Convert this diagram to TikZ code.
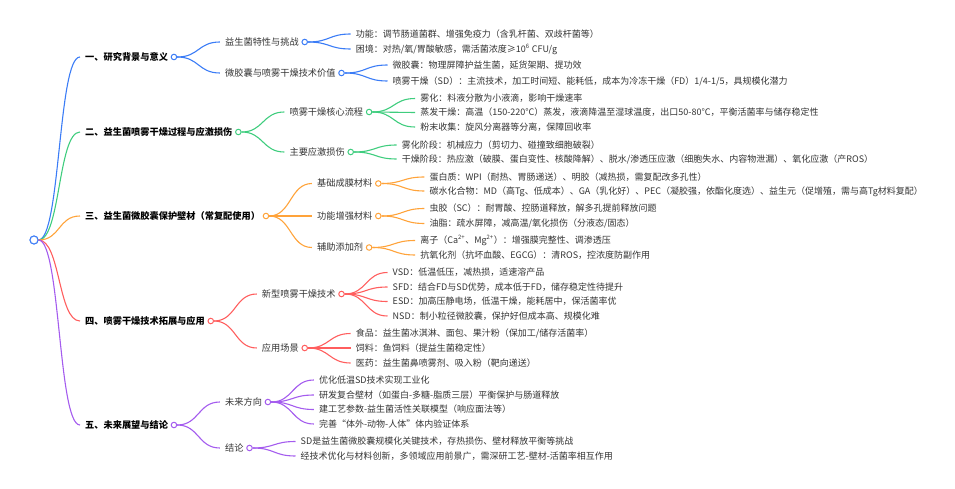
\documentclass[tikz,border=0pt]{standalone}
\usepackage{fontspec}
\setmainfont{Noto Sans CJK SC}
\usepackage{tikz}
\usetikzlibrary{positioning}

\definecolor{bblue}{HTML}{3B7CF6}
\definecolor{bgreen}{HTML}{3FCD7E}
\definecolor{borange}{HTML}{FFA33A}
\definecolor{bred}{HTML}{FF5E5E}
\definecolor{bpurple}{HTML}{A45CEE}
\definecolor{ink}{HTML}{333333}

\tikzset{
  txt/.style={anchor=west, inner sep=0pt, text height=0.8em, text depth=0.15em,
    text=ink, font=\fontsize{9}{11}\selectfont},
  head/.style={txt, text=black, font=\fontsize{9.2}{11}\selectfont\bfseries},
  sub/.style={txt, font=\fontsize{9.2}{11}\selectfont},
  leaf/.style={txt},
  dot/.style={circle, draw=#1, fill=white, line width=1pt, inner sep=0pt, minimum size=5.5pt},
  wire/.style={draw=#1, line width=1.1pt},
}
\newcommand{\conn}[3]{\draw[wire=#1] (#2.east) .. controls +(22,0) and +(-22,0) .. ([xshift=-5pt]#3.west);}

\begin{document}
\begin{tikzpicture}[x=1pt,y=-1pt]
  \useasboundingbox (0,0) rectangle (955,489);

  \node (root)[dot=bblue, minimum size=8pt] at (34,240) {};

  % branch 1
  \node (h1)[head, xshift=51pt] at (root.center |- 0,57) {一、研究背景与意义};
  \node (h1c)[dot=bblue, right=2.5pt of h1] {};
  \node (s11)[sub, xshift=51pt] at (h1c.center |- 0,42) {益生菌特性与挑战};
  \node (s11c)[dot=bblue, right=2.5pt of s11] {};
  \node (s12)[sub, xshift=51pt] at (h1c.center |- 0,73) {微胶囊与喷雾干燥技术价值};
  \node (s12c)[dot=bblue, right=2.5pt of s12] {};
  \node (l111)[leaf, xshift=51pt] at (s11c.center |- 0,34) {功能：调节肠道菌群、增强免疫力（含乳杆菌、双歧杆菌等）};
  \node (l112)[leaf, xshift=51pt] at (s11c.center |- 0,49) {困境：对热/氧/胃酸敏感，需活菌浓度≥10\textsuperscript{6} CFU/g};
  \node (l121)[leaf, xshift=51pt] at (s12c.center |- 0,65) {微胶囊：物理屏障护益生菌，延货架期、提功效};
  \node (l122)[leaf, xshift=51pt] at (s12c.center |- 0,81) {喷雾干燥（SD）：主流技术，加工时间短、能耗低，成本为冷冻干燥（FD）1/4-1/5，具规模化潜力};

  \conn{bblue}{root}{h1}
  \conn{bblue}{h1c}{s11}
  \conn{bblue}{h1c}{s12}
  \conn{bblue}{s11c}{l111}
  \conn{bblue}{s11c}{l112}
  \conn{bblue}{s12c}{l121}
  \conn{bblue}{s12c}{l122}

  % branch 2
  \node (h2)[head, xshift=51pt] at (root.center |- 0,132) {二、益生菌喷雾干燥过程与应激损伤};
  \node (h2c)[dot=bgreen, right=2.5pt of h2] {};
  \node (s21)[sub, xshift=51pt] at (h2c.center |- 0,112) {喷雾干燥核心流程};
  \node (s21c)[dot=bgreen, right=2.5pt of s21] {};
  \node (s22)[sub, xshift=51pt] at (h2c.center |- 0,152) {主要应激损伤};
  \node (s22c)[dot=bgreen, right=2.5pt of s22] {};
  \node (l211)[leaf, xshift=51pt] at (s21c.center |- 0,98.5) {雾化：料液分散为小液滴，影响干燥速率};
  \node (l212)[leaf, xshift=51pt] at (s21c.center |- 0,112.5) {蒸发干燥：高温（150-220°C）蒸发，液滴降温至湿球温度，出口50-80°C，平衡活菌率与储存稳定性};
  \node (l213)[leaf, xshift=51pt] at (s21c.center |- 0,127) {粉末收集：旋风分离器等分离，保障回收率};
  \node (l221)[leaf, xshift=51pt] at (s22c.center |- 0,145) {雾化阶段：机械应力（剪切力、碰撞致细胞破裂）};
  \node (l222)[leaf, xshift=51pt] at (s22c.center |- 0,159) {干燥阶段：热应激（破膜、蛋白变性、核酸降解）、脱水/渗透压应激（细胞失水、内容物泄漏）、氧化应激（产ROS）};

  \conn{bgreen}{root}{h2}
  \conn{bgreen}{h2c}{s21}
  \conn{bgreen}{h2c}{s22}
  \conn{bgreen}{s21c}{l211}
  \conn{bgreen}{s21c}{l212}
  \conn{bgreen}{s21c}{l213}
  \conn{bgreen}{s22c}{l221}
  \conn{bgreen}{s22c}{l222}

  % branch 3
  \node (h3)[head, xshift=51pt] at (root.center |- 0,216) {三、益生菌微胶囊保护壁材（常复配使用）};
  \node (h3c)[dot=borange, right=2.5pt of h3] {};
  \node (s31)[sub, xshift=51pt] at (h3c.center |- 0,183.5) {基础成膜材料};
  \node (s31c)[dot=borange, right=2.5pt of s31] {};
  \node (s32)[sub, xshift=51pt] at (h3c.center |- 0,216) {功能增强材料};
  \node (s32c)[dot=borange, right=2.5pt of s32] {};
  \node (s33)[sub, xshift=51pt] at (h3c.center |- 0,247.5) {辅助添加剂};
  \node (s33c)[dot=borange, right=2.5pt of s33] {};
  \node (l311)[leaf, xshift=51pt] at (s31c.center |- 0,177) {蛋白质：WPI（耐热、胃肠递送）、明胶（减热损，需复配改多孔性）};
  \node (l312)[leaf, xshift=51pt] at (s31c.center |- 0,191) {碳水化合物：MD（高Tg、低成本）、GA（乳化好）、PEC（凝胶强，依酯化度选）、益生元（促增殖，需与高Tg材料复配）};
  \node (l321)[leaf, xshift=51pt] at (s32c.center |- 0,208.5) {虫胶（SC）：耐胃酸、控肠道释放，解多孔提前释放问题};
  \node (l322)[leaf, xshift=51pt] at (s32c.center |- 0,223.5) {油脂：疏水屏障，减高温/氧化损伤（分液态/固态）};
  \node (l331)[leaf, xshift=51pt] at (s33c.center |- 0,240.5) {离子（Ca\textsuperscript{2+}、Mg\textsuperscript{2+}）：增强膜完整性、调渗透压};
  \node (l332)[leaf, xshift=51pt] at (s33c.center |- 0,255) {抗氧化剂（抗坏血酸、EGCG）：清ROS，控浓度防副作用};

  \conn{borange}{root}{h3}
  \conn{borange}{h3c}{s31}
  \conn{borange}{h3c}{s32}
  \conn{borange}{h3c}{s33}
  \conn{borange}{s31c}{l311}
  \conn{borange}{s31c}{l312}
  \conn{borange}{s32c}{l321}
  \conn{borange}{s32c}{l322}
  \conn{borange}{s33c}{l331}
  \conn{borange}{s33c}{l332}

  % branch 4
  \node (h4)[head, xshift=51pt] at (root.center |- 0,321) {四、喷雾干燥技术拓展与应用};
  \node (h4c)[dot=bred, right=2.5pt of h4] {};
  \node (s41)[sub, xshift=51pt] at (h4c.center |- 0,294) {新型喷雾干燥技术};
  \node (s41c)[dot=bred, right=2.5pt of s41] {};
  \node (s42)[sub, xshift=51pt] at (h4c.center |- 0,348) {应用场景};
  \node (s42c)[dot=bred, right=2.5pt of s42] {};
  \node (l411)[leaf, xshift=51pt] at (s41c.center |- 0,272.5) {VSD：低温低压，减热损，适速溶产品};
  \node (l412)[leaf, xshift=51pt] at (s41c.center |- 0,287) {SFD：结合FD与SD优势，成本低于FD，储存稳定性待提升};
  \node (l413)[leaf, xshift=51pt] at (s41c.center |- 0,301.5) {ESD：加高压静电场，低温干燥，能耗居中，保活菌率优};
  \node (l414)[leaf, xshift=51pt] at (s41c.center |- 0,316) {NSD：制小粒径微胶囊，保护好但成本高、规模化难};
  \node (l421)[leaf, xshift=51pt] at (s42c.center |- 0,333.5) {食品：益生菌冰淇淋、面包、果汁粉（保加工/储存活菌率）};
  \node (l422)[leaf, xshift=51pt] at (s42c.center |- 0,348) {饲料：鱼饲料（提益生菌稳定性）};
  \node (l423)[leaf, xshift=51pt] at (s42c.center |- 0,363) {医药：益生菌鼻喷雾剂、吸入粉（靶向递送）};

  \conn{bred}{root}{h4}
  \conn{bred}{h4c}{s41}
  \conn{bred}{h4c}{s42}
  \conn{bred}{s41c}{l411}
  \conn{bred}{s41c}{l412}
  \conn{bred}{s41c}{l413}
  \conn{bred}{s41c}{l414}
  \conn{bred}{s42c}{l421}
  \conn{bred}{s42c}{l422}
  \conn{bred}{s42c}{l423}

  % branch 5
  \node (h5)[head, xshift=51pt] at (root.center |- 0,425) {五、未来展望与结论};
  \node (h5c)[dot=bpurple, right=2.5pt of h5] {};
  \node (s51)[sub, xshift=51pt] at (h5c.center |- 0,402) {未来方向};
  \node (s51c)[dot=bpurple, right=2.5pt of s51] {};
  \node (s52)[sub, xshift=51pt] at (h5c.center |- 0,448) {结论};
  \node (s52c)[dot=bpurple, right=2.5pt of s52] {};
  \node (l511)[leaf, xshift=51pt] at (s51c.center |- 0,380) {优化低温SD技术实现工业化};
  \node (l512)[leaf, xshift=51pt] at (s51c.center |- 0,395) {研发复合壁材（如蛋白-多糖-脂质三层）平衡保护与肠道释放};
  \node (l513)[leaf, xshift=51pt] at (s51c.center |- 0,409.5) {建工艺参数-益生菌活性关联模型（响应面法等）};
  \node (l514)[leaf, xshift=51pt] at (s51c.center |- 0,424) {完善“体外-动物-人体”体内验证体系};
  \node (l521)[leaf, xshift=51pt] at (s52c.center |- 0,441.5) {SD是益生菌微胶囊规模化关键技术，存热损伤、壁材释放平衡等挑战};
  \node (l522)[leaf, xshift=51pt] at (s52c.center |- 0,456) {经技术优化与材料创新，多领域应用前景广，需深研工艺-壁材-活菌率相互作用};

  \conn{bpurple}{root}{h5}
  \conn{bpurple}{h5c}{s51}
  \conn{bpurple}{h5c}{s52}
  \conn{bpurple}{s51c}{l511}
  \conn{bpurple}{s51c}{l512}
  \conn{bpurple}{s51c}{l513}
  \conn{bpurple}{s51c}{l514}
  \conn{bpurple}{s52c}{l521}
  \conn{bpurple}{s52c}{l522}

  % root on top
  \node[dot=bblue, minimum size=8pt] at (root) {};
\end{tikzpicture}
\end{document}
